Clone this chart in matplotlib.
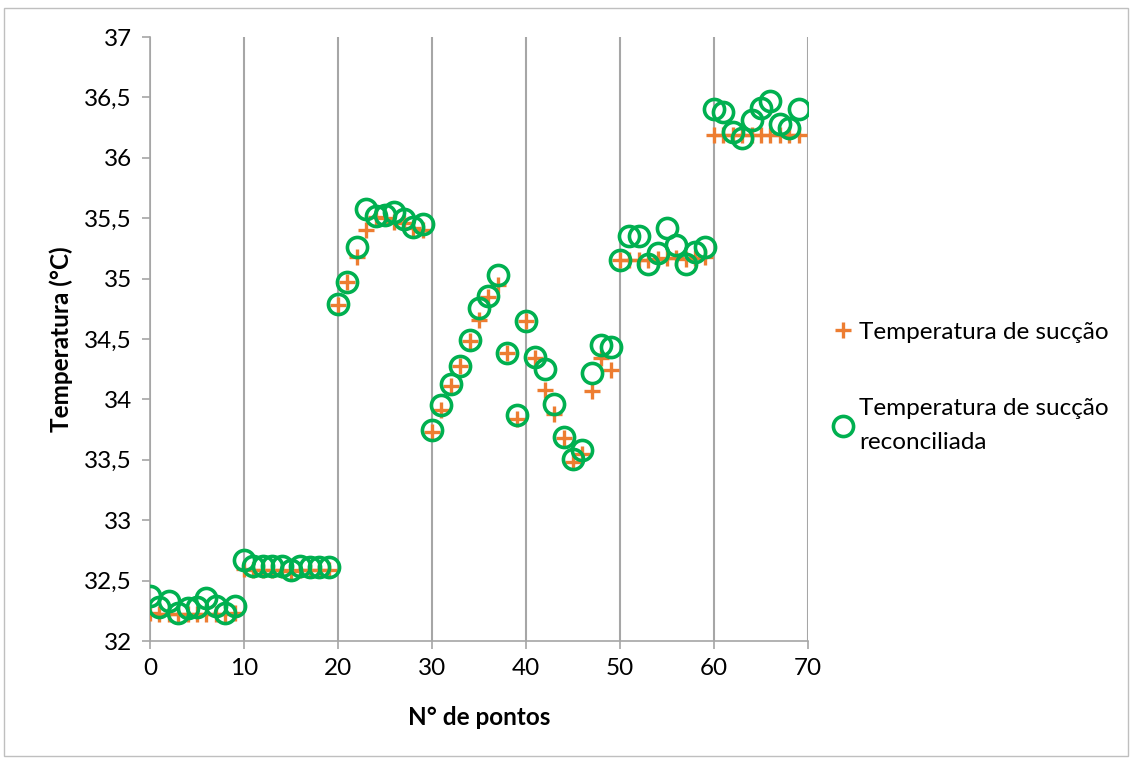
import matplotlib
matplotlib.use("Agg")
import matplotlib.pyplot as plt
from matplotlib.patches import Rectangle
from matplotlib.ticker import FuncFormatter, MultipleLocator

plt.rcParams['font.family'] = ['Lato', 'DejaVu Sans']

# N° de pontos
pontos = list(range(70))

# Temperatura de sucção (medida)
t_succao = [32.23, 32.22, 32.22, 32.22, 32.22, 32.22, 32.22, 32.22, 32.22, 32.23,
            32.60, 32.59, 32.59, 32.59, 32.59, 32.58, 32.59, 32.59, 32.59, 32.59,
            34.78, 34.97, 35.18, 35.40, 35.51, 35.50, 35.47, 35.46, 35.42, 35.40,
            33.73, 33.91, 34.11, 34.28, 34.48, 34.66, 34.85, 34.95, 34.38, 33.84,
            34.65, 34.34, 34.08, 33.88, 33.68, 33.48, 33.55, 34.07, 34.34, 34.24,
            35.15, 35.15, 35.15, 35.15, 35.16, 35.17, 35.17, 35.16, 35.17, 35.18,
            36.19, 36.19, 36.19, 36.19, 36.19, 36.19, 36.19, 36.19, 36.19, 36.19]

# Temperatura de sucção reconciliada
t_reconc = [32.37, 32.28, 32.33, 32.23, 32.27, 32.28, 32.36, 32.29, 32.23, 32.29,
            32.67, 32.62, 32.62, 32.62, 32.62, 32.59, 32.62, 32.61, 32.61, 32.61,
            34.79, 34.97, 35.26, 35.58, 35.52, 35.53, 35.55, 35.49, 35.43, 35.45,
            33.75, 33.95, 34.13, 34.28, 34.49, 34.76, 34.86, 35.03, 34.38, 33.87,
            34.65, 34.35, 34.25, 33.96, 33.69, 33.51, 33.58, 34.22, 34.45, 34.43,
            35.15, 35.35, 35.35, 35.12, 35.21, 35.42, 35.28, 35.12, 35.22, 35.26,
            36.40, 36.38, 36.21, 36.16, 36.31, 36.41, 36.47, 36.28, 36.25, 36.40]

fig = plt.figure(figsize=(11.32, 7.60), dpi=100)
ax = fig.add_axes([150 / 1132, 1 - 641 / 760, 658 / 1132, 604 / 760])

grid_col = '#a6a6a6'
ax.plot(pontos, t_succao, linestyle='none', marker='+', markersize=11,
        markeredgewidth=2.4, color='#ed7d31', label='Temperatura de sucção', zorder=3)
ax.plot(pontos, t_reconc, linestyle='none', marker='o', markersize=14.5,
        markeredgewidth=2.6, markerfacecolor='none', markeredgecolor='#00b050',
        label='Temperatura de sucção\nreconciliada', zorder=4)

ax.set_xlim(0, 70)
ax.set_ylim(32, 37)
ax.xaxis.set_major_locator(MultipleLocator(10))
ax.yaxis.set_major_locator(MultipleLocator(0.5))
ax.yaxis.set_major_formatter(FuncFormatter(lambda v, p: ('%g' % v).replace('.', ',')))
ax.grid(axis='x', color=grid_col, linewidth=1.5)
ax.set_axisbelow(True)

for s in ['top', 'right']:
    ax.spines[s].set_visible(False)
for s in ['left', 'bottom']:
    ax.spines[s].set_color(grid_col)
    ax.spines[s].set_linewidth(1.2)
ax.tick_params(axis='both', colors=grid_col, length=6, width=1.2, labelsize=17.5,
               labelcolor='black')
ax.tick_params(axis='y', pad=7)
ax.tick_params(axis='x', pad=6)

ax.set_xlabel('N° de pontos', fontsize=17.5, fontweight='bold', labelpad=20)
ax.set_ylabel('Temperatura (°C)', fontsize=17.5, fontweight='bold', labelpad=8)

leg = ax.legend(loc='upper left', bbox_to_anchor=(1.02, 0.545), frameon=False,
                fontsize=17.5, handletextpad=0.15, labelspacing=2.3, borderaxespad=0,
                handlelength=1.0)
for t in leg.get_texts():
    t.set_linespacing(1.75)

# moldura do gráfico
fig.patches.append(Rectangle((4 / 1132, 4 / 760), 1 - 8 / 1132, 1 - 12 / 760,
                             transform=fig.transFigure, fill=False,
                             edgecolor='#bfbfbf', linewidth=1))

fig.savefig('out.png', dpi=100)
